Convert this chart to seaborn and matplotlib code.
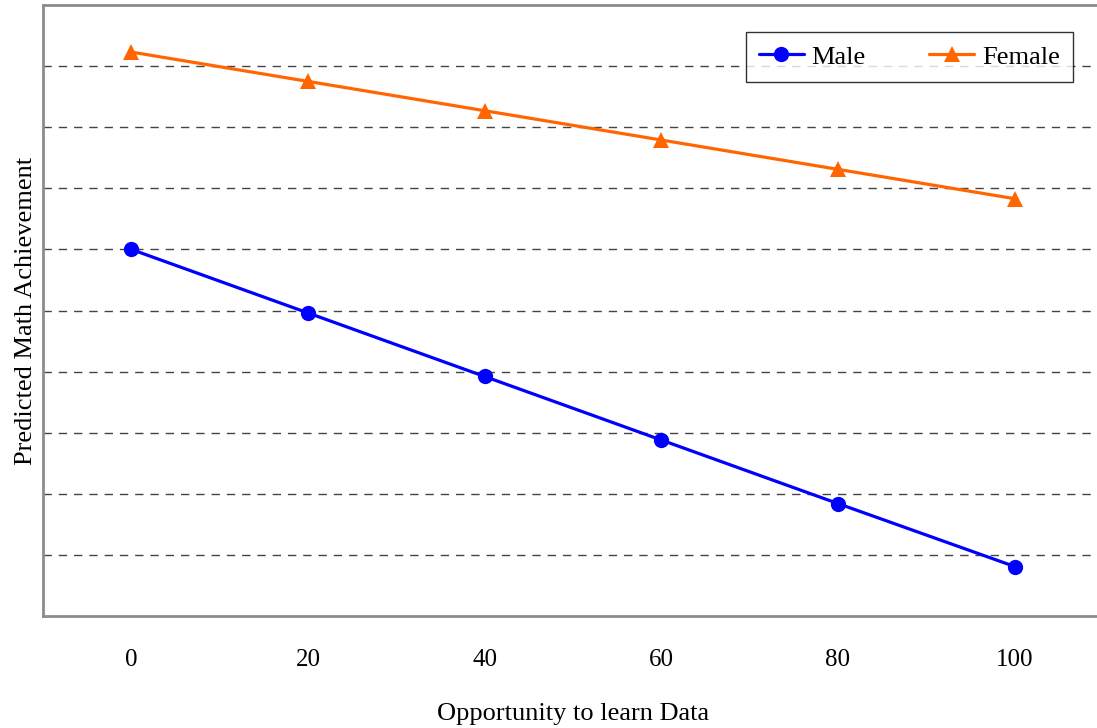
import matplotlib
matplotlib.use("Agg")
import matplotlib.pyplot as plt
import seaborn as sns
import pandas as pd

# Predicted achievement by opportunity to learn, per group
opportunity = [0, 20, 40, 60, 80, 100]
male = [6.00, 4.96, 3.92, 2.88, 1.84, 0.81]
female = [9.23, 8.75, 8.27, 7.79, 7.31, 6.83]
groups = ["Male", "Female"]
x_ticks = [0, 20, 40, 60, 80, 100]

df = pd.DataFrame({
    "Opportunity": opportunity * 2,
    "Achievement": male + female,
    "Group": [groups[0]] * len(male) + [groups[1]] * len(female),
})

sns.set_style("white")
plt.rcParams["font.family"] = ["Liberation Serif", "DejaVu Serif"]
plt.rcParams["text.color"] = "black"
plt.rcParams["axes.labelcolor"] = "black"
plt.rcParams["xtick.color"] = "black"

fig = plt.figure(figsize=(10.97, 7.28), dpi=100)
ax = fig.add_axes([43 / 1097, 1 - 616 / 728, 1060 / 1097, 611 / 728])

sns.lineplot(
    data=df, x="Opportunity", y="Achievement", hue="Group", style="Group",
    palette={"Male": "#0000FF", "Female": "#FF6600"},
    markers={"Male": "o", "Female": "^"}, dashes=False,
    markersize=11, markeredgewidth=0, linewidth=2.3, ax=ax,
)

ax.set_xlim(-10, 110)
ax.set_ylim(0, 10)
ax.set_xticks(x_ticks)
ax.set_yticks(range(1, 10))
ax.set_yticklabels([])
ax.tick_params(axis="both", length=0)
ax.tick_params(axis="x", labelsize=18, pad=24)
ax.yaxis.grid(True, linestyle=(0, (6, 5)), color="#444444", linewidth=1.0)
ax.xaxis.grid(False)
ax.set_axisbelow(True)
for side in ["left", "bottom", "top", "right"]:
    ax.spines[side].set_color("#8c8c8c")
    ax.spines[side].set_linewidth(2.0)

ax.set_xlabel("Opportunity to learn Data", fontsize=19)
ax.xaxis.set_label_coords(0.5, -0.143)
ax.set_ylabel("Predicted Math Achievement", fontsize=19)
ax.yaxis.set_label_coords(-0.006, 0.5)

leg = ax.legend(
    loc="upper right", bbox_to_anchor=(0.9717, 0.9558), borderaxespad=0,
    ncol=2, fontsize=19, frameon=True, fancybox=False,
    handlelength=1.7, columnspacing=2.4, handletextpad=0.3,
    borderpad=0.5, title=None,
)
leg.get_frame().set_edgecolor("#000000")
leg.get_frame().set_linewidth(1.0)

fig.savefig("out.png", dpi=100)
